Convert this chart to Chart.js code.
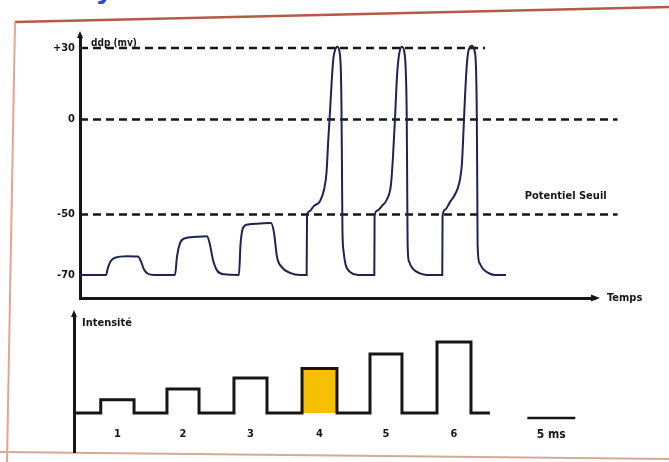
<!DOCTYPE html>
<html>
<head>
<meta charset="utf-8">
<script src="https://cdn.jsdelivr.net/npm/chart.js@4/dist/chart.umd.min.js"></script>
<style>
  body { margin: 0; background: #fff; }
  #wrap { position: relative; width: 669px; height: 462px; overflow: hidden; }
  canvas { position: absolute; left: 0; top: 0; }
</style>
</head>
<body>
<div id="wrap">
  <canvas id="stimChart" width="669" height="462"></canvas>
  <canvas id="ddpChart" width="669" height="462"></canvas>
</div>
<script>
// Membrane potential trace (time in ms, ddp in mV)
const traceMs = [0, 2.71, 2.92, 3.23, 3.65, 4.90, 6.04, 6.35, 6.67, 7.08, 7.71,
  9.90, 10.10, 10.42, 10.83, 12.08, 13.23, 13.54, 13.85, 14.27, 15.00,
  16.56, 16.72, 16.98, 17.50, 18.75, 19.90, 20.21, 20.52, 21.04, 21.88, 22.92,
  23.61, 23.65, 23.85, 24.38, 25.00, 25.42, 25.68, 25.86, 26.04, 26.22, 26.39, 26.56,
  26.80, 27.03, 27.17, 27.24, 27.29, 27.34, 27.45, 27.66, 28.13, 28.96,
  30.66, 30.69, 30.94, 31.46, 31.98, 32.40, 32.60, 32.81, 33.02, 33.23, 33.54, 33.80,
  33.96, 34.04, 34.08, 34.13, 34.27, 34.69, 35.42, 36.15,
  37.74, 37.77, 38.02, 38.54, 39.06, 39.48, 39.79, 39.95, 40.10, 40.28, 40.45, 40.80,
  41.09, 41.25, 41.33, 41.38, 41.42, 41.61, 41.98, 42.71, 43.23, 44.38];
const traceMv = [-70, -70, -67.5, -65.3, -64.3, -63.8, -63.9, -65.5, -68.2, -69.6, -70,
  -70, -64, -59.5, -58, -57.4, -57.2, -60, -65, -68.5, -69.8,
  -70, -60, -54.5, -53.3, -53, -52.8, -56, -64, -67.5, -69.3, -70,
  -70, -50.5, -48.5, -45.5, -43, -37, -28, -11, 3, 16, 25.5, 29,
  30.5, 28.5, 21, 5, -25, -55, -62, -66.5, -69, -70,
  -70, -50.5, -48, -45.5, -42, -34, -20, 0, 18, 27, 30.5, 28,
  18, 0, -30, -60, -65.5, -68, -69.5, -70,
  -70, -50.5, -47.5, -43.5, -39.5, -34, -23, -6, 9, 22, 28.5, 31,
  29, 22, 5, -30, -60, -66, -68, -69.6, -70, -70];

// reference levels (dashed) and where they stop
const refLevels = [30, 0, -50];
const refEndMs = [42.2, 56.0, 56.0];
const mvTicks = [30, 0, -50, -70];

// stimuli
const stimLabels = ['1', '2', '3', '4', '5', '6'];
const stimStartMs = [2.16, 9.06, 16.04, 23.13, 30.21, 37.19];
const stimEndMs = [5.63, 12.40, 19.48, 26.77, 33.54, 40.73];
const stimIntensity = [1.1, 2.0, 2.9, 3.7, 4.9, 5.9];
const stimBaseMs = [-0.6, 42.7];
const highlightStim = 3;
const scaleBarMs = [46.6, 51.6];

// non-linear ddp axis of the drawing: value -> fraction of axis height
const mvKnots = [[-77.7, 0], [-70, 0.088], [-50, 0.319], [0, 0.681], [30, 0.954], [35.1, 1]];

const ink = '#161616';
const family = '"DejaVu Sans Condensed", "DejaVu Sans", sans-serif';
const boldFont = size => `bold ${size}px ${family}`;

function mvToDecimal(v) {
    for (let i = 1; i < mvKnots.length; i++) {
        if (v <= mvKnots[i][0] || i === mvKnots.length - 1) {
            const [v0, d0] = mvKnots[i - 1], [v1, d1] = mvKnots[i];
            return d0 + (v - v0) / (v1 - v0) * (d1 - d0);
        }
    }
}
function decimalToMv(d) {
    for (let i = 1; i < mvKnots.length; i++) {
        if (d <= mvKnots[i][1] || i === mvKnots.length - 1) {
            const [v0, d0] = mvKnots[i - 1], [v1, d1] = mvKnots[i];
            return v0 + (d - d0) / (d1 - d0) * (v1 - v0);
        }
    }
}

class KneeScale extends Chart.LinearScale {
    getPixelForValue(value) {
        if (value === null || value === undefined) return NaN;
        return this.getPixelForDecimal(mvToDecimal(value));
    }
    getValueForPixel(pixel) {
        return decimalToMv(this.getDecimalForPixel(pixel));
    }
}
KneeScale.id = 'knee';
KneeScale.defaults = Chart.LinearScale.defaults;
Chart.register(KneeScale);

function arrowUp(ctx, x, y) {
    ctx.beginPath();
    ctx.moveTo(x, y - 5);
    ctx.lineTo(x - 3, y + 2);
    ctx.lineTo(x + 3, y + 2);
    ctx.closePath();
    ctx.fill();
}

// Top chart: ddp
const ddpLabels = {
    id: 'ddpLabels',
    afterDraw(chart) {
        const { ctx, chartArea: a, scales: { x, y } } = chart;
        ctx.save();
        ctx.fillStyle = ink;
        arrowUp(ctx, a.left, a.top);
        // x axis arrow
        ctx.beginPath();
        ctx.moveTo(a.right + 5, a.bottom);
        ctx.lineTo(a.right - 4, a.bottom - 3.5);
        ctx.lineTo(a.right - 4, a.bottom + 3.5);
        ctx.closePath();
        ctx.fill();

        ctx.textBaseline = 'middle';
        ctx.font = boldFont(10);
        ctx.fillText('ddp (mv)', a.left + 11, a.top + 7);
        ctx.font = boldFont(11);
        ctx.fillText('Temps', a.right + 12, a.bottom);
        ctx.textAlign = 'center';
        ctx.fillText('Potentiel Seuil', x.getPixelForValue(50.6), y.getPixelForValue(-50) - 18);
        ctx.restore();
    }
};

const ddpDatasets = [{
    data: traceMs.map((t, i) => ({ x: t, y: traceMv[i] })),
    borderColor: '#1d2452',
    borderWidth: 2,
    cubicInterpolationMode: 'monotone',
    pointRadius: 0
}];
refLevels.forEach((lvl, i) => {
    ddpDatasets.push({
        data: [{ x: 0, y: lvl }, { x: refEndMs[i], y: lvl }],
        borderColor: ink,
        borderWidth: 2.5,
        borderDash: [8, 5],
        pointRadius: 0,
        clip: false
    });
});

new Chart(document.getElementById('ddpChart'), {
    type: 'line',
    data: { datasets: ddpDatasets },
    options: {
        responsive: false,
        animation: false,
        events: [],
        layout: { padding: { left: 36, top: 36, right: 74, bottom: 164 } },
        plugins: { legend: { display: false }, tooltip: { enabled: false } },
        scales: {
            x: {
                type: 'linear',
                min: 0,
                max: 53.65,
                grid: { display: false, drawTicks: false },
                ticks: { display: false },
                border: { color: ink, width: 3 },
                afterFit: s => { s.height = 0; }
            },
            y: {
                type: 'knee',
                min: -77.7,
                max: 35.1,
                grid: { display: false, drawTicks: false },
                border: { color: ink, width: 3 },
                afterBuildTicks: s => { s.ticks = mvTicks.map(v => ({ value: v })); },
                ticks: {
                    padding: 5,
                    color: ink,
                    font: { family: family, weight: 'bold', size: 11 },
                    callback: v => (v > 0 ? '+' + v : String(v))
                },
                afterFit: s => { s.width = 44; }
            }
        }
    },
    plugins: [ddpLabels]
});

// Bottom chart: stimulus intensity
const stimTrace = [{ x: stimBaseMs[0], y: 0 }];
stimStartMs.forEach((s, i) => {
    stimTrace.push({ x: s, y: 0 }, { x: s, y: stimIntensity[i] },
        { x: stimEndMs[i], y: stimIntensity[i] }, { x: stimEndMs[i], y: 0 });
});
stimTrace.push({ x: stimBaseMs[1], y: 0 });

const h = highlightStim;
const stimDatasets = [
    {
        data: stimTrace,
        borderColor: ink,
        borderWidth: 3,
        pointRadius: 0
    },
    {
        data: [{ x: stimStartMs[h], y: 0 }, { x: stimStartMs[h], y: stimIntensity[h] },
            { x: stimEndMs[h], y: stimIntensity[h] }, { x: stimEndMs[h], y: 0 }],
        borderWidth: 0,
        borderColor: 'rgba(0,0,0,0)',
        backgroundColor: '#f5c000',
        fill: 'origin',
        pointRadius: 0
    },
    {
        data: [{ x: scaleBarMs[0], y: -0.42 }, { x: scaleBarMs[1], y: -0.42 }],
        borderColor: ink,
        borderWidth: 2.5,
        pointRadius: 0
    }
];

const stimLabelsPlugin = {
    id: 'stimLabels',
    beforeDraw(chart) {
        const ctx = chart.ctx;
        ctx.save();
        // scanned page frame
        ctx.lineWidth = 2.5;
        ctx.strokeStyle = '#b45a46';
        ctx.beginPath();
        ctx.moveTo(15, 22);
        ctx.lineTo(669, 7);
        ctx.stroke();
        ctx.lineWidth = 2;
        ctx.strokeStyle = '#e6a392';
        ctx.beginPath();
        ctx.moveTo(15, 22);
        ctx.lineTo(7, 462);
        ctx.stroke();
        ctx.strokeStyle = '#d2ab93';
        ctx.beginPath();
        ctx.moveTo(0, 452);
        ctx.lineTo(669, 459);
        ctx.stroke();
        ctx.fillStyle = '#2a4cc8';
        ctx.font = 'bold italic 26px "DejaVu Sans", sans-serif';
        ctx.fillText('y', 98, -2);
        ctx.restore();
    },
    afterDraw(chart) {
        const { ctx, chartArea: a, scales: { x, y } } = chart;
        ctx.save();
        ctx.fillStyle = ink;
        arrowUp(ctx, a.left, a.top);
        ctx.textBaseline = 'middle';
        ctx.font = boldFont(11);
        ctx.fillText('Intensité', a.left + 8, a.top + 8);
        ctx.textAlign = 'center';
        stimLabels.forEach((lab, i) => {
            ctx.fillText(lab, x.getPixelForValue((stimStartMs[i] + stimEndMs[i]) / 2), y.getPixelForValue(-1.8));
        });
        ctx.font = boldFont(12);
        ctx.fillText('5 ms', x.getPixelForValue((scaleBarMs[0] + scaleBarMs[1]) / 2), y.getPixelForValue(-1.8));
        ctx.restore();
    }
};

new Chart(document.getElementById('stimChart'), {
    type: 'line',
    data: { datasets: stimDatasets },
    options: {
        responsive: false,
        animation: false,
        events: [],
        layout: { padding: { left: 64, top: 315, right: 74, bottom: 10 } },
        plugins: { legend: { display: false }, tooltip: { enabled: false } },
        scales: {
            x: {
                type: 'linear',
                display: false,
                min: -0.625,
                max: 53.65
            },
            y: {
                type: 'linear',
                min: -3.25,
                max: 8.15,
                grid: { display: false, drawTicks: false },
                ticks: { display: false },
                border: { color: ink, width: 3 },
                afterFit: s => { s.width = 10; }
            }
        }
    },
    plugins: [stimLabelsPlugin]
});
</script>
</body>
</html>
